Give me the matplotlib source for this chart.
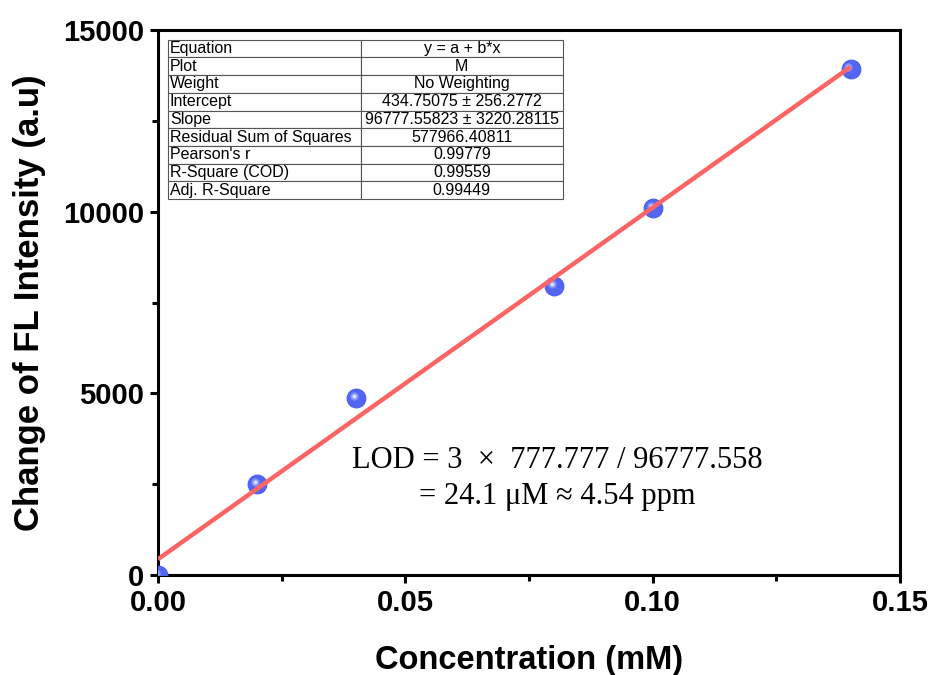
import numpy as np
import matplotlib
matplotlib.use('Agg')
import matplotlib.pyplot as plt
from matplotlib.transforms import ScaledTranslation
from matplotlib.ticker import MultipleLocator

plt.rcParams['font.family'] = ['Liberation Sans', 'DejaVu Sans']

# measured data
conc = [0.0, 0.02, 0.04, 0.08, 0.10, 0.14]
delta_fl = [0, 2505, 4872, 7954, 10101, 13927]

# linear fit reported in the table
intercept = 434.75075
slope = 96777.55823

table_keys = ["Equation", "Plot", "Weight", "Intercept", "Slope",
              "Residual Sum of Squares", "Pearson's r", "R-Square (COD)",
              "Adj. R-Square"]
table_vals = ["y = a + b*x", "M", "No Weighting", "434.75075 \u00b1 256.2772",
              "96777.55823 \u00b1 3220.28115", "577966.40811", "0.99779",
              "0.99559", "0.99449"]

lod_text = "LOD = 3 \u00a0\u00d7\u00a0 777.777 / 96777.558\n= 24.1 \u03bcM \u2248 4.54 ppm"

fig = plt.figure(figsize=(9.33, 6.75), dpi=100)
ax = fig.add_axes([0.1693, 0.1481, 0.7953, 0.8075])

# fit line
x_fit = np.array([conc[0], conc[-1]])
y_fit = intercept + slope * x_fit
ax.plot(x_fit, y_fit, color='#ff6464', lw=3.2, zorder=4, solid_capstyle='butt')

# sphere-like markers
ax.plot(conc, delta_fl, 'o', ms=13.5, color='#5266f2', mec='#4a5ef0', mew=0.8, zorder=3)
shift = ax.transData + ScaledTranslation(-1.5 / 72, 1.5 / 72, fig.dpi_scale_trans)
ax.plot(conc, delta_fl, 'o', ms=6, color='#8c9cff', mec='none', alpha=0.8,
        transform=shift, zorder=3.4)
ax.plot(conc, delta_fl, 'o', ms=3, color='#e4e8ff', mec='none', alpha=0.9,
        transform=shift, zorder=3.5)

ax.set_xlim(0, 0.15)
ax.set_ylim(0, 15000)
ax.xaxis.set_major_locator(MultipleLocator(0.05))
ax.xaxis.set_minor_locator(MultipleLocator(0.025))
ax.yaxis.set_major_locator(MultipleLocator(5000))
ax.yaxis.set_minor_locator(MultipleLocator(2500))
ax.xaxis.set_major_formatter(lambda v, p: f"{v:.2f}")

for s in ax.spines.values():
    s.set_linewidth(2.2)
ax.tick_params(which='major', direction='out', length=6, width=2.2,
               labelsize=21, pad=4)
ax.tick_params(which='minor', direction='out', length=4, width=2.2)
for lab in ax.get_xticklabels() + ax.get_yticklabels():
    lab.set_fontweight('bold')

ax.set_xlabel("Concentration (mM)", fontsize=23.5, fontweight='bold', labelpad=20)
ax.set_ylabel("Change of FL Intensity (a.u)", fontsize=25, fontweight='bold', labelpad=12)

# fit results table
cell_text = [[k, v] for k, v in zip(table_keys, table_vals)]
tbl = ax.table(cellText=cell_text, cellLoc='center', colWidths=[193, 202],
               bbox=[0.0135, 0.690, 0.532, 0.292], zorder=5)
tbl.auto_set_font_size(False)
for (r, c), cell in tbl.get_celld().items():
    cell.set_linewidth(0.8)
    cell.set_edgecolor('#555555')
    cell.set_facecolor('white')
    cell.get_text().set_fontsize(11.5)
    if c == 0:
        cell._loc = 'left'
        cell.get_text().set_ha('left')
        cell.PAD = 0.01

ax.text(0.0807, 2660, lod_text, family=['Liberation Serif', 'DejaVu Serif'],
        fontsize=22, ha='center', va='center', linespacing=1.3, zorder=6)

fig.savefig('out.png', dpi=100)
